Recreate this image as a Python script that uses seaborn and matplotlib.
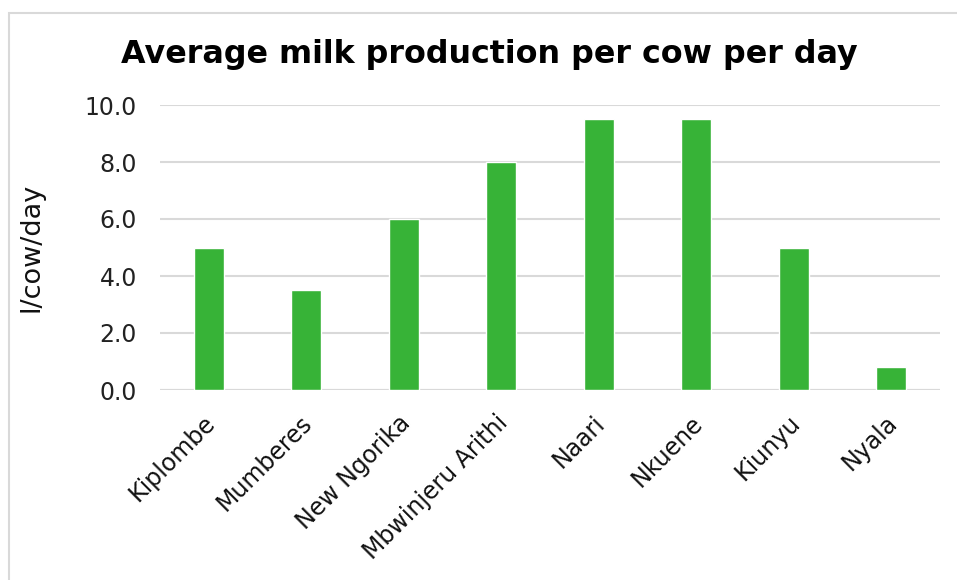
import matplotlib
matplotlib.use("Agg")
import matplotlib.pyplot as plt
import matplotlib.transforms as mtransforms
import seaborn as sns
import pandas as pd
from matplotlib.patches import Rectangle

# Average daily milk yield per cow by site
sites = ["Kiplombe", "Mumberes", "New Ngorika", "Mbwinjeru Arithi",
         "Naari", "Nkuene", "Kiunyu", "Nyala"]
milk_per_cow = [5.0, 3.5, 6.0, 8.0, 9.5, 9.5, 5.0, 0.8]
y_ticks = [0.0, 2.0, 4.0, 6.0, 8.0, 10.0]

df = pd.DataFrame({"site": sites, "milk": milk_per_cow})

sns.set_theme(style="white")
plt.rcParams["font.family"] = ["DejaVu Sans"]

fig = plt.figure(figsize=(9.57, 5.8), dpi=100)
ax = fig.add_axes([160 / 957, 1 - 390 / 580, 780 / 957, 285 / 580])

# light outer frame of the chart area
fig.patches.append(Rectangle((9 / 957, -0.1), 1.2, 1 - 13 / 580 + 0.1,
                             transform=fig.transFigure, fill=False,
                             edgecolor="#d9d9d9", linewidth=1.5, zorder=0))

sns.barplot(data=df, x="site", y="milk", color="#37b337", width=0.31,
            saturation=1, ax=ax, zorder=3)

ax.set_ylim(0, 10)
ax.set_yticks(y_ticks)
ax.set_yticklabels([f"{v:.1f}" for v in y_ticks], fontsize=17, color="#222222")
ax.yaxis.grid(True, color="#d9d9d9", linewidth=1.5)
ax.set_axisbelow(True)
ax.tick_params(axis="both", length=0)
ax.tick_params(axis="y", pad=16.5)
for s in ax.spines.values():
    s.set_visible(False)
ax.axhline(0, color="#d9d9d9", linewidth=1.5, zorder=1)

ax.set_xticks(range(len(sites)))
ax.set_xticklabels(sites, rotation=45, ha="right", rotation_mode="anchor",
                   fontsize=17, color="#111111")
ax.tick_params(axis="x", pad=15)
shift = mtransforms.ScaledTranslation(-6 / 100, 0, fig.dpi_scale_trans)
for lbl in ax.get_xticklabels():
    lbl.set_transform(lbl.get_transform() + shift)
ax.set_xlabel("")
ax.set_ylabel("l/cow/day", fontsize=19.5, color="#111111")
ax.yaxis.set_label_coords((45 - 160) / 780, 0.5)

fig.text(489 / 957, 1 - 55 / 580, "Average milk production per cow per day",
         ha="center", va="center", fontsize=22.9, fontweight="bold",
         color="#000000")

fig.savefig("out.png", dpi=100, facecolor="white")
